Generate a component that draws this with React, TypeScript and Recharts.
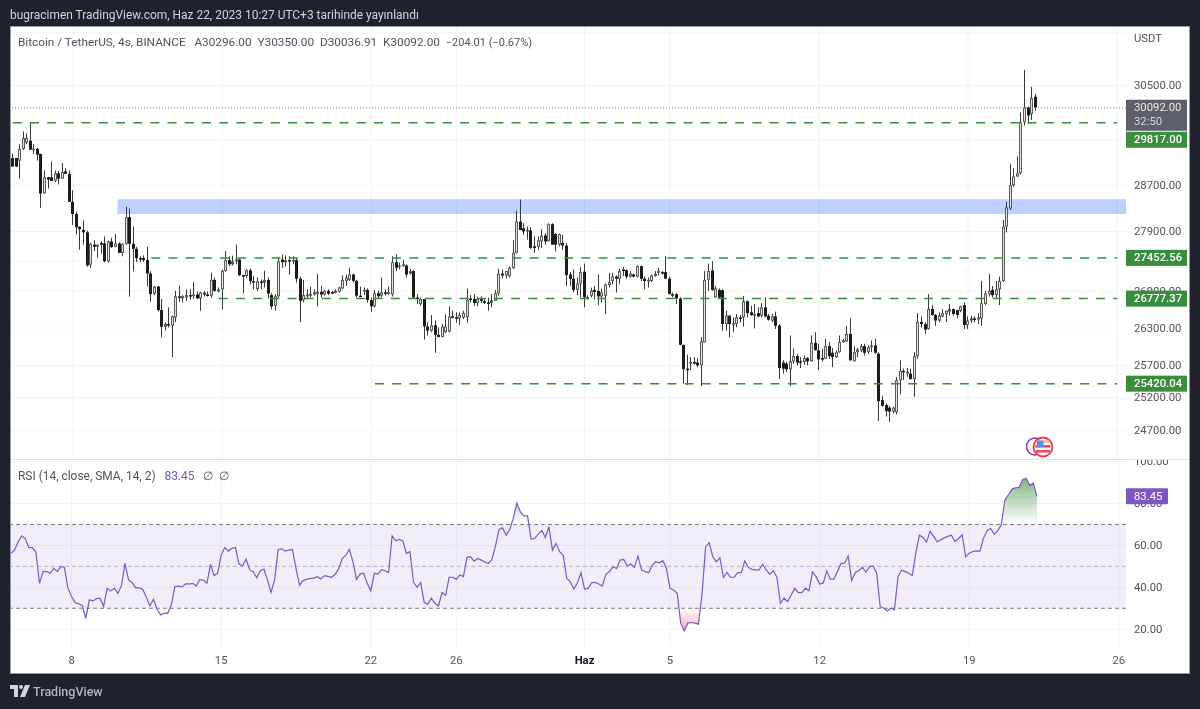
import React from "react";
import { ComposedChart, Bar, Line, Area, XAxis, YAxis, CartesianGrid, ReferenceLine, ReferenceArea } from "recharts";

type C = [number, number, number, number];
// [open, high, low, close]
const candlesA: C[] = [
[29180,29265,29030,29030],[29180,29185,29020,29030],[29135,29430,28815,29345],[29345,29660,29325,29540],[29460,29625,29430,29540],[29490,29817,29325,29330],[29330,29430,29255,29350],[29345,29360,29135,29240],[29255,29255,28306,28555],[28555,28960,28555,28840],
[28840,28845,28640,28800],[28840,29120,28775,28775],[28780,28960,28755,28910],[28910,28950,28715,28815],[28815,29090,28815,28935],[28945,29005,28900,28900],[28900,28960,28410,28410],[28410,28610,28010,28200],[28200,28240,27845,27970],[27980,27985,27590,27940],
[27925,28085,27675,27885],[27885,27915,27305,27325],[27340,27705,27285,27690],[27675,27750,27565,27640],[27640,27675,27455,27675],[27705,27730,27525,27675],[27695,27815,27380,27395],[27395,27745,27370,27730],[27730,27790,27620,27635],[27640,27860,27635,27695],
[27695,27715,27535,27535],[27535,27695,27480,27690],[27690,28325,27675,28145],[28145,28295,26810,27690],[27690,27985,27230,27605],[27605,27640,27380,27450],[27450,27480,27380,27440],[27450,27495,27385,27415],[27415,27640,26975,27190],[27190,27230,26725,26850],
[26860,26985,26835,26975],[26975,26985,26565,26590],[26590,26770,26155,26320],[26320,26395,26260,26365],[26365,26635,26310,26340],[26340,26500,25835,26490],[26470,26905,26395,26815],[26815,26995,26725,26790],[26780,26835,26715,26820],[26795,26930,26740,26835],
[26835,26930,26760,26815],[26825,27050,26770,26845],[26845,26890,26770,26780],[26780,26890,26580,26875],[26875,26900,26810,26845],[26845,26895,26810,26825],[26825,27205,26795,27085],[27085,27125,26890,26905],[26895,26960,26880,26930],[26930,27260,26605,27235],
[27235,27565,27220,27415],[27415,27480,27315,27345],[27345,27490,27325,27395],[27395,27675,27345,27425],[27425,27430,27150,27165],[27165,27170,26865,27150],[27150,27260,27120,27245],[27245,27270,27015,27065],[27065,27150,26930,27040],[26935,27125,26905,27060],
[27060,27095,26930,27040],[27040,27240,26960,27085],
];
const candlesB: C[] = [
[27085,27125,26780,26860],[26835,26865,26605,26650],[26660,26850,26580,26815],[26815,27455,26795,27395],[27425,27510,27285,27380],[27380,27495,27305,27415],[27415,27480,27175,27395],[27395,27480,27345,27415],[27415,27450,27040,27105],[27105,27140,26395,26740],
[26755,27085,26715,26835],[26815,26930,26770,26845],[26825,26975,26795,26855],[26845,26930,26825,26880],[26855,27190,26650,26890],[26890,26985,26795,26845],[26845,26920,26825,26905],[26905,26930,26835,26855],[26885,26905,26850,26865],[26870,26930,26865,26905],
[26890,26975,26875,26960],[26945,27160,26930,27085],[27070,27175,26985,27125],[27085,27285,27070,27175],[27175,27190,27040,27070],[27070,27085,26795,26825],[26825,26975,26810,26810],[26900,26960,26835,26920],[26920,26945,26715,26755],[26755,26795,26565,26650],
[26650,26920,26635,26865],[26865,26905,26780,26815],[26825,27125,26795,26880],[26880,26930,26825,26855],[26855,26975,26835,26885],[26845,27480,26810,27380],[27380,27510,27230,27285],[27305,27370,27260,27325],[27315,27415,27305,27345],[27325,27345,27125,27175],
[27190,27270,27175,27230],[27230,27250,26780,26795],[26795,26850,26690,26780],[26690,26795,26660,26770],[26770,26770,26115,26325],[26325,26395,26180,26258],[26258,26510,26232,26345],[26345,26420,25905,26190],[26190,26310,26155,26155],[26155,26365,26155,26325],
[26235,26525,26220,26325],[26240,26650,26232,26485],[26490,26580,26455,26475],[26475,26555,26385,26455],[26455,26555,26350,26510],[26470,26580,26445,26545],[26475,26945,26385,26755],[26780,26835,26715,26755],[26770,26850,26660,26705],[26705,26810,26650,26770],
[26770,26810,26705,26740],[26735,26770,26690,26715],[26715,26795,26580,26705],[26705,26850,26635,26750],[26740,26920,26740,26865],[26865,27270,26825,27190],[27190,27260,27110,27160],[27160,27232,27110,27232],[27150,27305,27125,27287],[27280,27748,27270,27537],
[27537,28255,27525,28068],[28068,28450,27925,27925],[27955,28040,27845,27900],
];
const candlesC: C[] = [
[27900,27985,27760,27925],[27916,27972,27604,27620],[27648,27815,27537,27620],[27637,27815,27592,27748],[27732,27938,27620,27827],[27832,27872,27676,27732],[27732,28040,27732,28024],[28024,28040,27676,27676],[27855,27872,27563,27676],[27676,27860,27648,27855],
[27705,27843,27592,27660],[27660,27705,26985,27165],[27175,27215,26985,27105],[27105,27259,26878,26920],[26920,27125,26834,27025],[27025,27303,26797,27215],[27222,27358,26635,26797],[26797,26834,26769,26790],[26823,26958,26797,26904],[26920,26985,26769,26888],
[26904,27175,26672,26813],[26813,26942,26715,26878],[26823,27025,26526,27013],[27000,27204,26958,27050],[27067,27204,27013,27140],[27140,27160,26878,27105],[27105,27270,27013,27232],[27259,27303,27150,27232],[27248,27259,27105,27140],[27140,27232,27125,27190],
[27175,27190,27125,27140],[27140,27325,27125,27314],[27314,27325,27067,27105],[27105,27140,26931,27067],[27067,27125,26958,27085],[27067,27175,27050,27160],[27150,27232,27140,27190],[27204,27287,27160,27232],[27215,27232,27175,27190],[27215,27480,27105,27105],
[27105,27140,26850,26850],[26850,26878,26797,26834],[26850,26865,26690,26780],[26780,26797,26022,26032],[26030,26032,25423,25645],[25655,25875,25397,25630],[25733,25837,25630,25760],[25760,25837,25717,25745],[25750,25821,25680,25707],[25707,26153,25385,26085],
[26070,27232,26070,27085],[27085,27358,26904,27232],[27240,27397,26904,26920],[26797,26985,26797,26942],[26920,26942,26780,26797],[26915,26931,26258,26365],[26365,26580,26258,26500],[26500,26500,26153,26365],[26365,26472,26232,26375],[26365,26526,26312,26472],
[26472,26510,26393,26455],[26472,26823,26325,26735],[26735,26742,26472,26542],[26555,26660,26500,26510],[26500,26690,26295,26526],[26542,26635,26472,26488],[26500,26705,26472,26635],[26635,26797,26472,26488],[26500,26526,26420,26435],
];
const candlesD: C[] = [
[26420,26526,26393,26488],[26488,26565,26285,26338],[26338,26365,25490,25665],[25750,25785,25577,25655],[25733,25760,25604,25645],[25645,26180,25385,25770],[25770,25969,25733,25852],[25852,25890,25707,25750],[25770,25837,25665,25750],[25760,25862,25717,25821],
[25821,25837,25707,25770],[25770,26180,25770,26063],[26063,26232,25943,25943],[25943,26048,25630,25800],[25821,25969,25770,25800],[25811,26127,25811,26010],[26010,26075,25811,25852],[25905,25980,25680,25837],[25837,25943,25821,25915],[25915,26180,25905,26075],
[26075,26127,26063,26100],[26085,26338,26075,26205],[26205,26455,25785,25785],[25770,26010,25770,25915],[25915,25980,25837,25958],[25943,26048,25915,26010],[26010,26048,25862,25905],[25915,26022,25890,25995],[25995,26100,25915,26022],[26022,26127,25890,25905],
[25890,25915,24848,25150],[25165,25233,25065,25080],[25090,25115,24915,24998],[25050,25080,24828,24990],[24990,25065,24964,25050],[24980,25526,24948,25475],[25475,25785,25254,25620],[25620,25655,25475,25597],[25577,25665,25526,25604],[25577,25655,25490,25490],
[25490,25915,25217,25852],[25852,26542,25811,26400],[26400,26488,26312,26365],[26365,26393,26205,26275],[26285,26850,26275,26607],[26607,26672,26500,26510],[26510,26526,26338,26420],[26420,26555,26393,26500],[26488,26607,26472,26542],[26526,26580,26393,26580],
[26565,26690,26500,26607],[26607,26618,26500,26526],[26590,26595,26455,26510],[26580,26660,26555,26650],[26672,26715,26285,26350],[26350,26488,26285,26420],[26420,26500,26385,26455],[26455,26488,26393,26435],[26440,26542,26365,26472],[26455,27067,26338,26700],
[26690,26904,26672,26860],[26850,27190,26813,26904],[26920,26985,26797,26834],[26834,27067,26769,26931],[26931,27140,26672,27067],[27067,28097,27050,27983],[27983,28410,27883,28310],[28295,29077,28267,28700],[28700,28994,28672,28855],[28855,29207,28842,28912],
[28912,30005,28890,29825],[29825,30796,29770,30097],[30097,30110,29795,29950],[29975,30480,29868,30270],[30296,30350,30036.91,30092],
];
const rsiA = [56.2,57.8,61.7,64.6,63.3,59,59,56.7,41.9,47.5,47.6,46.7,49,47.6,50,49.5,39.5,35.6,32.7,32.1,31.4,25.2,34,33.5,34.6,34.8,30.8,39.5,38.3,39.5,37.1,40.8,51.4,43.5,42.2,39.7,39.7,39,35.2,31.1,34.3,29.5,26.8,27.6,27.6,31.6,40.3,40.6,40.2,41.6,41.6,41.9,40.6,43.7,43.5,41.9,51,45.6,46.7,55.4,59,57.3,58.6,59,51.1,50.2,53.5,48.3,47.5,44.6,47.9,48.7];
const rsiB = [43.5,37.6,43.5,58.1,58.4,57.3,57.8,58.1,49,41,43.2,43.8,44.3,44.4,45.1,44,45.6,45.2,44.8,46.2,49,53.7,55.4,58.1,52.2,43.8,46.3,46.7,41.9,38.3,46.7,46.3,48.4,47.9,47.1,64.6,62.2,62.9,62.1,56.2,57,42.4,40,42.2,32.7,31.9,34.8,32.4,31.1,37.5,36.2,44.8,44.8,43.8,45.9,45.1,54.3,54.6,52.5,53.8,53,52.1,51.4,53.3,59.7,67.6,68.4,64.9,67.6,72.9,80.3,76,74.1];
const rsiC = [74.1,63,63.3,65.4,67.1,63.8,68.9,57.8,61,57,55.4,44.3,42.7,39.2,42.2,47,39.2,39.5,42.2,42.4,41.6,40.6,46.3,47.5,49.8,49,53,53.3,50.2,51.1,49.5,54.9,48.3,47.5,47,50.6,52.2,51.7,52.7,49,39.5,38.7,37.1,22.9,19.2,22.9,23.2,22.9,22.4,37.1,59.4,61.3,54.6,52.2,54.1,44.8,47.1,44.8,44.8,47,47,52.7,49.5,48.6,48.3,48.3,51.1,48.3,46.3];
const rsiD = [47.9,44.8,32.4,34.8,33.2,36.3,39.5,37.5,37.5,39.6,38.4,47.2,45.1,41.6,42,47.8,43.9,43.9,47.5,51.4,51.5,55,43.2,47.1,48,49.6,47.2,49.9,50.2,46.7,30.8,30,28.7,30,29.2,45.1,48.3,47.5,46.7,45.6,56.3,64.9,63.9,61.6,66.7,64.3,61.7,62.7,63.6,64.3,64.9,61.9,63.3,65.1,54.5,56.3,57.1,57.4,57.3,63.5,67,68.1,65.4,67,70,81.8,84.2,86.9,87.5,87.8,91.5,92,88.6,89.8,83.45];

const dayTicks = [17, 59, 101, 125, 161, 185, 227, 269, 311];
const dayLabels = ["8", "15", "22", "26", "Haz", "5", "12", "19", "26"];
const SLOTS = 314;
const priceGrid = [31500, 30500, 29500, 28700, 27900, 27400, 26900, 26300, 25700, 25200, 24700];
const priceTicks = [30500, 28700, 27900, 26900, 26300, 25700, 25200, 24700, 27452.56, 26777.37, 25420.04, 29817, 30092];
const rsiGrid = [100, 80, 60, 40, 20];
const rsiTicks = [100, 80, 60, 40, 20, 83.45];
const zoneTop = 28456;
const zoneBottom = 28200;
const zoneStart = 30;
const levels = [
  { price: 29817, start: 0 },
  { price: 27452.56, start: 39 },
  { price: 26777.37, start: 58 },
  { price: 25420.04, start: 102 },
];

const candles = [...candlesA, ...candlesB, ...candlesC, ...candlesD];
const rsiValues = [...rsiA, ...rsiB, ...rsiC, ...rsiD];
const rows = Array.from({ length: SLOTS }, (_, i) => {
  const c = candles[i];
  return c
    ? { i, o: c[0], h: Math.max(c[0], c[1], c[3]), l: Math.min(c[0], c[2], c[3]), c: c[3], range: [Math.min(c[0], c[2], c[3]), Math.max(c[0], c[1], c[3])], rsi: rsiValues[i] }
    : { i };
});

const FONT = "Roboto, sans-serif";
const TXT = "#50535e";
const W = 1178;
const AXIS_FS = 11.3;

const Candle = (p: any) => {
  const d = p.payload;
  if (!d || d.h == null || !isFinite(p.y) || !isFinite(p.height)) return <g />;
  const lh = Math.log(d.h), ll = Math.log(d.l);
  const yOf = (v: number) => p.y + (p.height * (lh - Math.log(v))) / (lh - ll || 1);
  const cx = Math.round(p.x + p.width / 2 - 0.5);
  const top = yOf(Math.max(d.o, d.c));
  const bot = Math.max(yOf(Math.min(d.o, d.c)), top + 1.5);
  const up = d.c >= d.o;
  return (
    <g>
      <rect x={cx} y={p.y} width={1} height={p.height} fill="#3a3a3a" />
      <rect x={cx - 1} y={top} width={3} height={bot - top} fill={up ? "#5a5a5a" : "#1c1c1c"} />
      {up && bot - top > 3 ? <rect x={cx} y={top + 1} width={1} height={bot - top - 2} fill="#e4e4e4" /> : null}
    </g>
  );
};

const priceTag: Record<number, { fill: string; text: string; dy: number }> = {
  29817: { fill: "#388e3c", text: "29817.00", dy: 17 },
  27452.56: { fill: "#388e3c", text: "27452.56", dy: 0 },
  26777.37: { fill: "#388e3c", text: "26777.37", dy: 0 },
  25420.04: { fill: "#388e3c", text: "25420.04", dy: 0 },
};

const PriceTick = (p: any) => {
  const v = p.payload.value;
  const tag = priceTag[v];
  const common = { fontFamily: FONT, fontSize: AXIS_FS, dominantBaseline: "central" as const };
  if (v === 30092)
    return (
      <g>
        <rect x={p.x} y={p.y - 8} width={61} height={31} fill="#5d606b" />
        <text x={p.x + 8} y={p.y} fill="#e8e8ec" {...common}>30092.00</text>
        <text x={p.x + 8} y={p.y + 14} fill="#d5d6db" {...common}>32:50</text>
      </g>
    );
  if (tag)
    return (
      <g>
        <rect x={p.x} y={p.y - 8 + tag.dy} width={61} height={16} fill={tag.fill} />
        <text x={p.x + 8} y={p.y + tag.dy} fill="#ffffff" fontWeight={500} {...common}>{tag.text}</text>
      </g>
    );
  return <text x={p.x + 8} y={p.y} fill={TXT} {...common}>{v.toFixed(2)}</text>;
};

const RsiTick = (p: any) => {
  const v = p.payload.value;
  const common = { fontFamily: FONT, fontSize: AXIS_FS, dominantBaseline: "central" as const };
  if (v === 83.45)
    return (
      <g>
        <rect x={p.x} y={p.y - 8} width={42} height={16} fill="#7e57c2" rx={1} />
        <text x={p.x + 8} y={p.y} fill="#ffffff" {...common}>83.45</text>
      </g>
    );
  return <text x={p.x + 8} y={p.y} fill={TXT} {...common}>{v.toFixed(2)}</text>;
};

const DayTick = (p: any) => {
  const idx = dayTicks.indexOf(Number(p.payload.value));
  const label = dayLabels[idx];
  return (
    <text x={p.x} y={p.y} textAnchor="middle" dominantBaseline="central" fontFamily={FONT} fontSize={AXIS_FS} fill={label === "Haz" ? "#131722" : TXT} fontWeight={label === "Haz" ? 700 : 400}>
      {label}
    </text>
  );
};

const abs = (left: number, top: number, extra: React.CSSProperties = {}): React.CSSProperties => ({
  position: "absolute", left, top, whiteSpace: "pre", fontFamily: FONT, lineHeight: "14px", ...extra,
});

export default function App() {
  return (
    <div style={{ position: "fixed", left: 0, top: 0, width: 1200, height: 709, background: "#1e222d", overflow: "hidden", filter: "blur(0.5px)" }}>
      <div style={abs(10, 8, { fontSize: 11.95, color: "#d1d4dc" })}>bugracimen TradingView.com, Haz 22, 2023 10:27 UTC+3 tarihinde yayınlandı</div>
      <div style={{ position: "absolute", left: 10, top: 26, width: 1178, height: 646, background: "#fff", border: "1px solid #9598a1" }} />

      <div style={{ position: "absolute", left: 11, top: 27 }}>
        <ComposedChart width={W} height={432} data={rows} margin={{ top: 0, right: 0, bottom: 0, left: 0 }} barGap={0} barCategoryGap={0}>
          <CartesianGrid stroke="#f0f3fa" horizontalValues={priceGrid} verticalValues={dayTicks} />
          <XAxis dataKey="i" type="category" hide ticks={dayTicks} interval={0} />
          <YAxis orientation="right" width={63} scale="log" domain={[24276, 31615]} allowDataOverflow type="number" ticks={priceTicks} interval={0} axisLine={false} tickLine={false} tickSize={0} tickMargin={0} tick={PriceTick} />
          <ReferenceArea x1={zoneStart} y1={zoneBottom} y2={zoneTop} fill="#2962ff" fillOpacity={0.3} stroke="none" ifOverflow="extendDomain" />
          <ReferenceLine y={30092} stroke="#787b86" strokeDasharray="1 2" />
          {levels.map((l) => (
            <ReferenceLine key={l.price} stroke="#388e3c" strokeWidth={1.5} strokeDasharray="9 8.2" segment={[{ x: l.start, y: l.price }, { x: SLOTS - 3, y: l.price }]} />
          ))}
          <Bar dataKey="range" barSize={3} shape={Candle} isAnimationActive={false} />
        </ComposedChart>
      </div>

      <div style={{ position: "absolute", left: 11, top: 459, width: 1178, height: 1, background: "#e0e3eb" }} />

      <div style={{ position: "absolute", left: 11, top: 460 }}>
        <ComposedChart width={W} height={213} data={rows} margin={{ top: 0, right: 0, bottom: 0, left: 0 }}>
          <defs>
            <linearGradient id="rsiFill" gradientUnits="userSpaceOnUse" x1="0" x2="0" y1="18" y2="170">
              <stop offset="0" stopColor="#388e3c" stopOpacity={0.65} />
              <stop offset="0.302" stopColor="#388e3c" stopOpacity={0} />
              <stop offset="0.853" stopColor="#f23645" stopOpacity={0} />
              <stop offset="1" stopColor="#f23645" stopOpacity={0.4} />
            </linearGradient>
          </defs>
          <CartesianGrid stroke="#f0f3fa" horizontalValues={rsiGrid} verticalValues={dayTicks} />
          <XAxis dataKey="i" type="category" ticks={dayTicks} interval={0} height={26} axisLine={false} tickLine={false} tickSize={0} tickMargin={13} tick={DayTick} />
          <YAxis orientation="right" width={63} domain={[11.5, 100.8]} allowDataOverflow type="number" ticks={rsiTicks} interval={0} axisLine={false} tickLine={false} tickSize={0} tickMargin={0} tick={RsiTick} />
          <ReferenceArea y1={30} y2={70} fill="#7e57c2" fillOpacity={0.1} stroke="none" />
          <ReferenceLine y={70} stroke="#787b86" strokeDasharray="4 3" />
          <ReferenceLine y={50} stroke="#787b86" strokeOpacity={0.5} strokeDasharray="4 3" />
          <ReferenceLine y={30} stroke="#787b86" strokeDasharray="4 3" />
          <Area dataKey="rsi" baseValue={70} stroke="none" fill="url(#rsiFill)" fillOpacity={1} isAnimationActive={false} dot={false} activeDot={false} connectNulls={false} />
          <Line dataKey="rsi" stroke="#7e57c2" strokeWidth={1.2} dot={false} activeDot={false} isAnimationActive={false} />
        </ComposedChart>
      </div>

      <div style={abs(18, 35, { fontSize: 11.8, color: TXT })}>
        {"Bitcoin / TetherUS, 4s, BINANCE   A30296.00  Y30350.00  D30036.91  K30092.00  "}
        <span style={{ fontSize: 11 }}>−204.01 (−0.67%)</span>
      </div>
      <div style={abs(1134, 32, { fontSize: AXIS_FS, color: TXT })}>USDT</div>
      <div style={abs(18, 469, { fontSize: 11.95, color: TXT })}>
        {"RSI (14, close, SMA, 14, 2)   "}<span style={{ color: "#7e57c2" }}>83.45</span>{"   ∅  ∅"}
      </div>

      <svg style={{ position: "absolute", left: 1022, top: 433 }} width={36} height={28} viewBox="0 0 36 28">
        <circle cx={13} cy={13.5} r={8.5} fill="#fff" stroke="#9c27b0" strokeWidth={1.5} />
        <circle cx={21} cy={14} r={9.5} fill="#fff" stroke="#f23645" strokeWidth={1.8} />
        <rect x={14.5} y={7.5} width={13} height={2.2} fill="#f7a8ae" />
        <rect x={13.5} y={12} width={15} height={2.6} fill="#f04a55" />
        <rect x={14} y={17} width={14} height={2.6} fill="#f04a55" />
        <rect x={15} y={7.5} width={6.5} height={6.5} fill="#5b8fe8" />
      </svg>

      <svg style={{ position: "absolute", left: 10, top: 685 }} width={20} height={13} viewBox="0 0 20 13">
        <path d="M0 0H8V12H4V4H0Z" fill="#d1d4dc" />
        <circle cx={11} cy={2} r={2} fill="#d1d4dc" />
        <path d="M15 0H20L15 12H10Z" fill="#d1d4dc" />
      </svg>
      <div style={abs(33, 685, { fontSize: 12.5, fontWeight: 500, color: "#b2b5be" })}>TradingView</div>
    </div>
  );
}
